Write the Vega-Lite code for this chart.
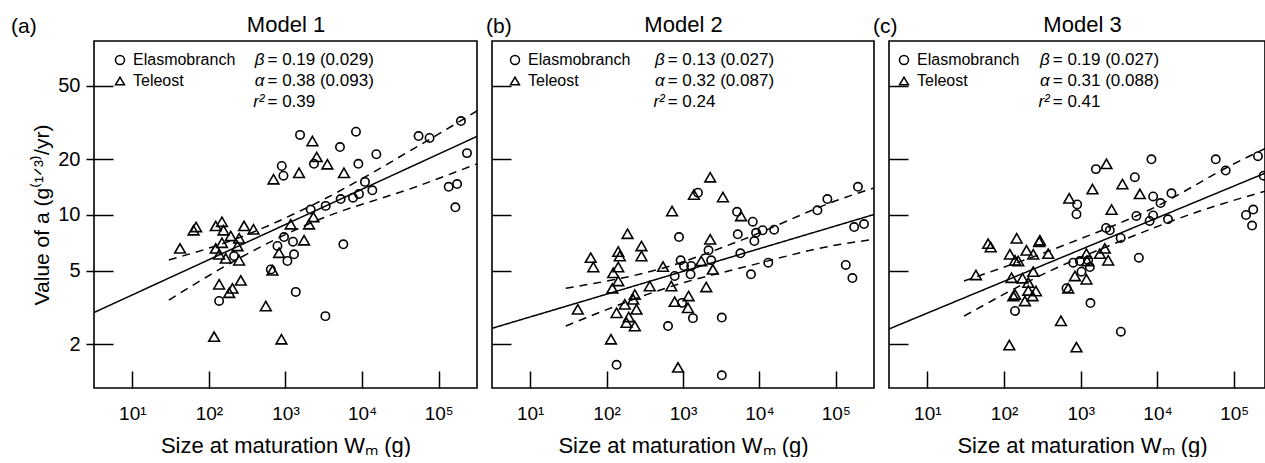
{
"$schema": "https://vega.github.io/schema/vega-lite/v6.json",
"padding": {"left": 10, "top": 12, "right": 0, "bottom": 0},
"background": "white",
"config": {
  "font": "Liberation Sans",
  "view": {"stroke": "black", "strokeWidth": 1.6},
  "axis": {"domain": false, "grid": false, "tickColor": "black", "tickWidth": 1.5, "labelColor": "black", "titleColor": "black", "titleFontWeight": "normal", "labelFont": "Liberation Sans", "titleFont": "Liberation Sans"},
  "legend": {"title": null, "orient": "none", "legendY": 11, "direction": "vertical", "labelFontSize": 16, "labelColor": "black", "symbolSize": 80, "symbolStrokeWidth": 1.5, "symbolStrokeColor": "black", "symbolFillColor": "transparent", "labelOffset": 5, "rowPadding": 5, "padding": 0},
  "title": {"fontWeight": "normal", "color": "black", "font": "Liberation Sans"}
},
"datasets": {
"pts": [
{"panel":"a","group":"Elasmobranch","Wm":1549,"a":27.1},{"panel":"a","group":"Elasmobranch","Wm":8318,"a":28.2},{"panel":"a","group":"Elasmobranch","Wm":54600,"a":26.7},{"panel":"a","group":"Elasmobranch","Wm":5144,"a":23.3},{"panel":"a","group":"Elasmobranch","Wm":15350,"a":21.3},{"panel":"a","group":"Elasmobranch","Wm":893,"a":18.4},{"panel":"a","group":"Elasmobranch","Wm":940,"a":16.3},{"panel":"a","group":"Elasmobranch","Wm":8936,"a":18.9},{"panel":"a","group":"Elasmobranch","Wm":2355,"a":18.9},{"panel":"a","group":"Elasmobranch","Wm":10900,"a":15.1},{"panel":"a","group":"Elasmobranch","Wm":13600,"a":13.6},{"panel":"a","group":"Elasmobranch","Wm":9099,"a":13.0},{"panel":"a","group":"Elasmobranch","Wm":7600,"a":12.4},{"panel":"a","group":"Elasmobranch","Wm":5254,"a":12.2},{"panel":"a","group":"Elasmobranch","Wm":3347,"a":11.2},{"panel":"a","group":"Elasmobranch","Wm":2134,"a":10.7},{"panel":"a","group":"Elasmobranch","Wm":957,"a":7.6},{"panel":"a","group":"Elasmobranch","Wm":785,"a":6.8},{"panel":"a","group":"Elasmobranch","Wm":1253,"a":7.17},{"panel":"a","group":"Elasmobranch","Wm":1292,"a":6.13},{"panel":"a","group":"Elasmobranch","Wm":1059,"a":5.64},{"panel":"a","group":"Elasmobranch","Wm":643,"a":5.08},{"panel":"a","group":"Elasmobranch","Wm":5692,"a":6.94},{"panel":"a","group":"Elasmobranch","Wm":136,"a":3.43},{"panel":"a","group":"Elasmobranch","Wm":1361,"a":3.84},{"panel":"a","group":"Elasmobranch","Wm":3316,"a":2.84},{"panel":"a","group":"Elasmobranch","Wm":213,"a":6.0},{"panel":"a","group":"Elasmobranch","Wm":76000,"a":26.1},{"panel":"a","group":"Elasmobranch","Wm":195000,"a":32.2},{"panel":"a","group":"Elasmobranch","Wm":234000,"a":21.6},{"panel":"a","group":"Elasmobranch","Wm":174000,"a":14.7},{"panel":"a","group":"Elasmobranch","Wm":135000,"a":14.2},{"panel":"a","group":"Elasmobranch","Wm":165000,"a":11.0},
{"panel":"a","group":"Teleost","Wm":2244,"a":25.1},{"panel":"a","group":"Teleost","Wm":2553,"a":20.6},{"panel":"a","group":"Teleost","Wm":3524,"a":18.8},{"panel":"a","group":"Teleost","Wm":1502,"a":16.9},{"panel":"a","group":"Teleost","Wm":697,"a":15.6},{"panel":"a","group":"Teleost","Wm":5795,"a":16.9},{"panel":"a","group":"Teleost","Wm":68,"a":8.61},{"panel":"a","group":"Teleost","Wm":63,"a":8.27},{"panel":"a","group":"Teleost","Wm":123,"a":8.73},{"panel":"a","group":"Teleost","Wm":148,"a":9.2},{"panel":"a","group":"Teleost","Wm":155,"a":8.27},{"panel":"a","group":"Teleost","Wm":288,"a":8.73},{"panel":"a","group":"Teleost","Wm":382,"a":8.37},{"panel":"a","group":"Teleost","Wm":193,"a":7.7},{"panel":"a","group":"Teleost","Wm":248,"a":7.48},{"panel":"a","group":"Teleost","Wm":42,"a":6.6},{"panel":"a","group":"Teleost","Wm":123,"a":6.6},{"panel":"a","group":"Teleost","Wm":148,"a":7.08},{"panel":"a","group":"Teleost","Wm":236,"a":6.8},{"panel":"a","group":"Teleost","Wm":136,"a":6.13},{"panel":"a","group":"Teleost","Wm":166,"a":5.83},{"panel":"a","group":"Teleost","Wm":248,"a":5.69},{"panel":"a","group":"Teleost","Wm":1169,"a":8.91},{"panel":"a","group":"Teleost","Wm":2029,"a":8.91},{"panel":"a","group":"Teleost","Wm":2312,"a":9.75},{"panel":"a","group":"Teleost","Wm":1746,"a":7.3},{"panel":"a","group":"Teleost","Wm":824,"a":6.25},{"panel":"a","group":"Teleost","Wm":676,"a":5.02},{"panel":"a","group":"Teleost","Wm":136,"a":4.22},{"panel":"a","group":"Teleost","Wm":261,"a":4.43},{"panel":"a","group":"Teleost","Wm":203,"a":4.01},{"panel":"a","group":"Teleost","Wm":184,"a":3.8},{"panel":"a","group":"Teleost","Wm":553,"a":3.22},{"panel":"a","group":"Teleost","Wm":117,"a":2.2},{"panel":"a","group":"Teleost","Wm":885,"a":2.13},
{"panel":"b","group":"Elasmobranch","Wm":1570,"a":13.2},{"panel":"b","group":"Elasmobranch","Wm":5100,"a":10.4},{"panel":"b","group":"Elasmobranch","Wm":8180,"a":9.2},{"panel":"b","group":"Elasmobranch","Wm":11000,"a":8.27},{"panel":"b","group":"Elasmobranch","Wm":15600,"a":8.33},{"panel":"b","group":"Elasmobranch","Wm":9040,"a":8.01},{"panel":"b","group":"Elasmobranch","Wm":5210,"a":7.86},{"panel":"b","group":"Elasmobranch","Wm":77600,"a":12.2},{"panel":"b","group":"Elasmobranch","Wm":57500,"a":10.6},{"panel":"b","group":"Elasmobranch","Wm":887,"a":7.6},{"panel":"b","group":"Elasmobranch","Wm":8590,"a":7.23},{"panel":"b","group":"Elasmobranch","Wm":2160,"a":6.44},{"panel":"b","group":"Elasmobranch","Wm":5640,"a":6.21},{"panel":"b","group":"Elasmobranch","Wm":931,"a":5.69},{"panel":"b","group":"Elasmobranch","Wm":1031,"a":5.3},{"panel":"b","group":"Elasmobranch","Wm":1282,"a":5.3},{"panel":"b","group":"Elasmobranch","Wm":2340,"a":5.69},{"panel":"b","group":"Elasmobranch","Wm":778,"a":4.68},{"panel":"b","group":"Elasmobranch","Wm":1256,"a":4.78},{"panel":"b","group":"Elasmobranch","Wm":7760,"a":4.78},{"panel":"b","group":"Elasmobranch","Wm":13060,"a":5.52},{"panel":"b","group":"Elasmobranch","Wm":971,"a":3.35},{"panel":"b","group":"Elasmobranch","Wm":1349,"a":2.77},{"panel":"b","group":"Elasmobranch","Wm":3220,"a":2.79},{"panel":"b","group":"Elasmobranch","Wm":637,"a":2.51},{"panel":"b","group":"Elasmobranch","Wm":135,"a":1.55},{"panel":"b","group":"Elasmobranch","Wm":3220,"a":1.36},{"panel":"b","group":"Elasmobranch","Wm":195000,"a":14.2},{"panel":"b","group":"Elasmobranch","Wm":234000,"a":8.93},{"panel":"b","group":"Elasmobranch","Wm":174000,"a":8.61},{"panel":"b","group":"Elasmobranch","Wm":135000,"a":5.37},{"panel":"b","group":"Elasmobranch","Wm":165000,"a":4.56},
{"panel":"b","group":"Teleost","Wm":2270,"a":16.0},{"panel":"b","group":"Teleost","Wm":1390,"a":12.9},{"panel":"b","group":"Teleost","Wm":3330,"a":12.5},{"panel":"b","group":"Teleost","Wm":719,"a":10.5},{"panel":"b","group":"Teleost","Wm":5750,"a":9.88},{"panel":"b","group":"Teleost","Wm":188,"a":7.92},{"panel":"b","group":"Teleost","Wm":2270,"a":7.39},{"panel":"b","group":"Teleost","Wm":62,"a":5.88},{"panel":"b","group":"Teleost","Wm":67,"a":5.23},{"panel":"b","group":"Teleost","Wm":142,"a":6.34},{"panel":"b","group":"Teleost","Wm":149,"a":6.0},{"panel":"b","group":"Teleost","Wm":142,"a":5.23},{"panel":"b","group":"Teleost","Wm":122,"a":4.87},{"panel":"b","group":"Teleost","Wm":286,"a":6.8},{"panel":"b","group":"Teleost","Wm":286,"a":6.0},{"panel":"b","group":"Teleost","Wm":142,"a":4.4},{"panel":"b","group":"Teleost","Wm":119,"a":4.01},{"panel":"b","group":"Teleost","Wm":548,"a":5.26},{"panel":"b","group":"Teleost","Wm":367,"a":4.13},{"panel":"b","group":"Teleost","Wm":703,"a":4.13},{"panel":"b","group":"Teleost","Wm":1732,"a":5.64},{"panel":"b","group":"Teleost","Wm":2460,"a":5.08},{"panel":"b","group":"Teleost","Wm":2014,"a":4.08},{"panel":"b","group":"Teleost","Wm":1183,"a":3.65},{"panel":"b","group":"Teleost","Wm":778,"a":3.4},{"panel":"b","group":"Teleost","Wm":1161,"a":3.15},{"panel":"b","group":"Teleost","Wm":234,"a":3.72},{"panel":"b","group":"Teleost","Wm":223,"a":3.5},{"panel":"b","group":"Teleost","Wm":173,"a":3.29},{"panel":"b","group":"Teleost","Wm":246,"a":3.09},{"panel":"b","group":"Teleost","Wm":135,"a":2.96},{"panel":"b","group":"Teleost","Wm":195,"a":2.81},{"panel":"b","group":"Teleost","Wm":182,"a":2.62},{"panel":"b","group":"Teleost","Wm":234,"a":2.51},{"panel":"b","group":"Teleost","Wm":42,"a":3.09},{"panel":"b","group":"Teleost","Wm":114,"a":2.13},{"panel":"b","group":"Teleost","Wm":861,"a":1.5},
{"panel":"c","group":"Elasmobranch","Wm":8340,"a":20.0},{"panel":"c","group":"Elasmobranch","Wm":1574,"a":17.7},{"panel":"c","group":"Elasmobranch","Wm":57400,"a":20.0},{"panel":"c","group":"Elasmobranch","Wm":77400,"a":17.4},{"panel":"c","group":"Elasmobranch","Wm":204000,"a":20.8},{"panel":"c","group":"Elasmobranch","Wm":242000,"a":16.3},{"panel":"c","group":"Elasmobranch","Wm":5060,"a":16.0},{"panel":"c","group":"Elasmobranch","Wm":898,"a":11.4},{"panel":"c","group":"Elasmobranch","Wm":879,"a":10.1},{"panel":"c","group":"Elasmobranch","Wm":8770,"a":12.6},{"panel":"c","group":"Elasmobranch","Wm":15200,"a":13.1},{"panel":"c","group":"Elasmobranch","Wm":10960,"a":11.6},{"panel":"c","group":"Elasmobranch","Wm":5310,"a":9.88},{"panel":"c","group":"Elasmobranch","Wm":8770,"a":9.94},{"panel":"c","group":"Elasmobranch","Wm":7890,"a":9.29},{"panel":"c","group":"Elasmobranch","Wm":13700,"a":9.48},{"panel":"c","group":"Elasmobranch","Wm":2140,"a":8.51},{"panel":"c","group":"Elasmobranch","Wm":2390,"a":8.27},{"panel":"c","group":"Elasmobranch","Wm":3310,"a":7.51},{"panel":"c","group":"Elasmobranch","Wm":142600,"a":10.0},{"panel":"c","group":"Elasmobranch","Wm":177000,"a":10.7},{"panel":"c","group":"Elasmobranch","Wm":171000,"a":8.77},{"panel":"c","group":"Elasmobranch","Wm":5710,"a":5.88},{"panel":"c","group":"Elasmobranch","Wm":796,"a":5.52},{"panel":"c","group":"Elasmobranch","Wm":973,"a":5.64},{"panel":"c","group":"Elasmobranch","Wm":1248,"a":5.69},{"panel":"c","group":"Elasmobranch","Wm":1313,"a":5.23},{"panel":"c","group":"Elasmobranch","Wm":1021,"a":4.94},{"panel":"c","group":"Elasmobranch","Wm":652,"a":4.02},{"panel":"c","group":"Elasmobranch","Wm":1337,"a":3.34},{"panel":"c","group":"Elasmobranch","Wm":139,"a":3.03},{"panel":"c","group":"Elasmobranch","Wm":3330,"a":2.34},
{"panel":"c","group":"Teleost","Wm":2160,"a":18.9},{"panel":"c","group":"Teleost","Wm":1420,"a":13.8},{"panel":"c","group":"Teleost","Wm":3490,"a":14.7},{"panel":"c","group":"Teleost","Wm":5890,"a":13.0},{"panel":"c","group":"Teleost","Wm":706,"a":12.3},{"panel":"c","group":"Teleost","Wm":2520,"a":10.7},{"panel":"c","group":"Teleost","Wm":62,"a":7.0},{"panel":"c","group":"Teleost","Wm":67,"a":6.71},{"panel":"c","group":"Teleost","Wm":146,"a":7.48},{"panel":"c","group":"Teleost","Wm":293,"a":7.3},{"panel":"c","group":"Teleost","Wm":287,"a":7.17},{"panel":"c","group":"Teleost","Wm":196,"a":6.44},{"panel":"c","group":"Teleost","Wm":240,"a":6.13},{"panel":"c","group":"Teleost","Wm":377,"a":6.18},{"panel":"c","group":"Teleost","Wm":119,"a":6.13},{"panel":"c","group":"Teleost","Wm":139,"a":5.69},{"panel":"c","group":"Teleost","Wm":153,"a":5.64},{"panel":"c","group":"Teleost","Wm":43,"a":4.74},{"panel":"c","group":"Teleost","Wm":125,"a":4.58},{"panel":"c","group":"Teleost","Wm":174,"a":4.55},{"panel":"c","group":"Teleost","Wm":240,"a":4.94},{"panel":"c","group":"Teleost","Wm":207,"a":4.31},{"panel":"c","group":"Teleost","Wm":1186,"a":6.18},{"panel":"c","group":"Teleost","Wm":1773,"a":6.18},{"panel":"c","group":"Teleost","Wm":2060,"a":6.6},{"panel":"c","group":"Teleost","Wm":2275,"a":5.69},{"panel":"c","group":"Teleost","Wm":1211,"a":5.64},{"panel":"c","group":"Teleost","Wm":838,"a":4.68},{"panel":"c","group":"Teleost","Wm":1186,"a":4.49},{"panel":"c","group":"Teleost","Wm":139,"a":3.72},{"panel":"c","group":"Teleost","Wm":132,"a":3.65},{"panel":"c","group":"Teleost","Wm":207,"a":3.91},{"panel":"c","group":"Teleost","Wm":260,"a":3.88},{"panel":"c","group":"Teleost","Wm":235,"a":3.65},{"panel":"c","group":"Teleost","Wm":187,"a":3.43},{"panel":"c","group":"Teleost","Wm":686,"a":4.02},{"panel":"c","group":"Teleost","Wm":551,"a":2.68},{"panel":"c","group":"Teleost","Wm":117,"a":1.98},{"panel":"c","group":"Teleost","Wm":879,"a":1.93}
],
"lines": [
{"panel":"a","kind":"fit","Wm":3.1623,"a":2.97},{"panel":"a","kind":"fit","Wm":316228,"a":26.6},
{"panel":"a","kind":"upper","Wm":30,"a":5.71},{"panel":"a","kind":"upper","Wm":261,"a":7.6},{"panel":"a","kind":"upper","Wm":2134,"a":11.2},{"panel":"a","kind":"upper","Wm":58000,"a":24.0},{"panel":"a","kind":"upper","Wm":316228,"a":36.5},
{"panel":"a","kind":"lower","Wm":30,"a":3.47},{"panel":"a","kind":"lower","Wm":261,"a":5.9},{"panel":"a","kind":"lower","Wm":2134,"a":9.05},{"panel":"a","kind":"lower","Wm":58000,"a":14.5},{"panel":"a","kind":"lower","Wm":316228,"a":18.9},
{"panel":"b","kind":"fit","Wm":3.1623,"a":2.44},{"panel":"b","kind":"fit","Wm":316228,"a":10.06},
{"panel":"b","kind":"upper","Wm":29.2,"a":4.02},{"panel":"b","kind":"upper","Wm":570,"a":5.19},{"panel":"b","kind":"upper","Wm":6300,"a":7.41},{"panel":"b","kind":"upper","Wm":115900,"a":12.2},{"panel":"b","kind":"upper","Wm":316228,"a":14.0},
{"panel":"b","kind":"lower","Wm":29.2,"a":2.51},{"panel":"b","kind":"lower","Wm":861,"a":4.22},{"panel":"b","kind":"lower","Wm":6300,"a":5.23},{"panel":"b","kind":"lower","Wm":115900,"a":6.95},{"panel":"b","kind":"lower","Wm":316228,"a":7.38},
{"panel":"c","kind":"fit","Wm":3.1623,"a":2.42},{"panel":"c","kind":"fit","Wm":316228,"a":17.5},
{"panel":"c","kind":"upper","Wm":30,"a":4.4},{"panel":"c","kind":"upper","Wm":652,"a":6.95},{"panel":"c","kind":"upper","Wm":8770,"a":10.9},{"panel":"c","kind":"upper","Wm":96400,"a":18.8},{"panel":"c","kind":"upper","Wm":316228,"a":23.9},
{"panel":"c","kind":"lower","Wm":30,"a":2.84},{"panel":"c","kind":"lower","Wm":396,"a":4.98},{"panel":"c","kind":"lower","Wm":2920,"a":7.08},{"panel":"c","kind":"lower","Wm":35600,"a":10.5},{"panel":"c","kind":"lower","Wm":316228,"a":13.8}
],
"stats": [
{"panel":"a","sym":"β","rest":"= 0.19 (0.029)","Wm":582,"a":68.5},{"panel":"a","sym":"α","rest":"= 0.38 (0.093)","Wm":582,"a":53.2},{"panel":"a","sym":"r²","rest":"= 0.39","Wm":582,"a":40.6},
{"panel":"b","sym":"β","rest":"= 0.13 (0.027)","Wm":631,"a":68.5},{"panel":"b","sym":"α","rest":"= 0.32 (0.087)","Wm":631,"a":53.2},{"panel":"b","sym":"r²","rest":"= 0.24","Wm":631,"a":40.6},
{"panel":"c","sym":"β","rest":"= 0.19 (0.027)","Wm":431,"a":68.5},{"panel":"c","sym":"α","rest":"= 0.31 (0.088)","Wm":431,"a":53.2},{"panel":"c","sym":"r²","rest":"= 0.41","Wm":431,"a":40.6}
]
},
"spacing": 15,
"bounds": "flush",
"resolve": {"scale": {"shape": "independent", "strokeDash": "independent"}, "legend": {"shape": "independent"}},
"hconcat": [
{
 "width": 383, "height": 347,
 "title": {"text": "(a)", "anchor": "start", "frame": "group", "dx": -83, "offset": -41, "baseline": "alphabetic", "fontSize": 21},
 "layer": [
  {"data": {"name": "pts"}, "transform": [{"filter": "datum.panel === 'a' && datum.group === 'Elasmobranch'"}],
   "mark": {"type": "point", "filled": false, "stroke": "black", "strokeWidth": 1.6, "opacity": 1, "size": 70},
   "encoding": {
    "x": {"field": "Wm", "type": "quantitative", "scale": {"type": "log", "domain": [3.1623, 316228], "nice": false},
          "axis": {"orient": "bottom", "values": [10, 100, 1000, 10000, 100000], "offset": -17, "tickSize": 17, "labelPadding": 16, "labelFontSize": 19, "labelExpr": "datum.value == 10 ? '10¹' : datum.value == 100 ? '10²' : datum.value == 1000 ? '10³' : datum.value == 10000 ? '10⁴' : '10⁵'", "title": "Size at maturation Wₘ (g)", "titleFontSize": 22, "titlePadding": 12}},
    "y": {"field": "a", "type": "quantitative", "scale": {"type": "log", "domain": [1.161, 87.2], "nice": false},
          "axis": {"orient": "left", "values": [2, 5, 10, 20, 50], "offset": -19, "tickSize": 27, "labelPadding": 6, "labelFontSize": 20, "title": "Value of a (g⁽¹ᐟ³⁾/yr)", "titleFontSize": 21, "titlePadding": 5}},
    "shape": {"field": "group", "type": "nominal", "scale": {"domain": ["Elasmobranch", "Teleost"], "range": ["circle", "triangle-up"]}, "legend": {"legendX": 18}}
   }},
  {"data": {"name": "pts"}, "transform": [{"filter": "datum.panel === 'a' && datum.group === 'Teleost'"}],
   "mark": {"type": "point", "filled": false, "stroke": "black", "strokeWidth": 1.6, "opacity": 1, "size": 115},
   "encoding": {
    "x": {"field": "Wm", "type": "quantitative", "scale": {"type": "log", "domain": [3.1623, 316228], "nice": false}, "axis": null},
    "y": {"field": "a", "type": "quantitative", "scale": {"type": "log", "domain": [1.161, 87.2], "nice": false}},
    "shape": {"field": "group", "type": "nominal", "scale": {"domain": ["Elasmobranch", "Teleost"], "range": ["circle", "triangle-up"]}, "legend": {"legendX": 18}}
   }},
  {"data": {"name": "lines"}, "transform": [{"filter": "datum.panel === 'a'"}],
   "mark": {"type": "line", "color": "black", "strokeWidth": 1.5, "clip": true, "interpolate": "monotone"},
   "encoding": {
    "x": {"field": "Wm", "type": "quantitative", "scale": {"type": "log", "domain": [3.1623, 316228], "nice": false},
          "axis": {"orient": "top", "title": "Model 1", "labels": false, "ticks": false, "domain": false, "titlePadding": 10, "titleFontSize": 22, "titleBaseline": "alphabetic"}},
    "y": {"field": "a", "type": "quantitative", "scale": {"type": "log", "domain": [1.161, 87.2], "nice": false}},
    "strokeDash": {"field": "kind", "type": "nominal", "scale": {"domain": ["fit", "upper", "lower"], "range": [[1, 0], [8, 6], [8, 6]]}, "legend": null}
   }},
  {"data": {"name": "stats"}, "transform": [{"filter": "datum.panel === 'a'"}],
   "mark": {"type": "text", "align": "right", "baseline": "middle", "dx": -3, "fontSize": 17, "fontStyle": "italic", "color": "black"},
   "encoding": {
    "x": {"field": "Wm", "type": "quantitative", "scale": {"type": "log", "domain": [3.1623, 316228], "nice": false}, "axis": null},
    "y": {"field": "a", "type": "quantitative", "scale": {"type": "log", "domain": [1.161, 87.2], "nice": false}},
    "text": {"field": "sym"}
   }},
  {"data": {"name": "stats"}, "transform": [{"filter": "datum.panel === 'a'"}],
   "mark": {"type": "text", "align": "left", "baseline": "middle", "fontSize": 17, "color": "black"},
   "encoding": {
    "x": {"field": "Wm", "type": "quantitative", "scale": {"type": "log", "domain": [3.1623, 316228], "nice": false}, "axis": null},
    "y": {"field": "a", "type": "quantitative", "scale": {"type": "log", "domain": [1.161, 87.2], "nice": false}},
    "text": {"field": "rest"}
   }}
 ],
 "resolve": {"axis": {"x": "independent"}}
},
{
 "width": 382, "height": 347,
 "title": {"text": "(b)", "anchor": "start", "frame": "group", "dx": -6, "offset": -41, "baseline": "alphabetic", "fontSize": 21},
 "layer": [
  {"data": {"name": "pts"}, "transform": [{"filter": "datum.panel === 'b' && datum.group === 'Elasmobranch'"}],
   "mark": {"type": "point", "filled": false, "stroke": "black", "strokeWidth": 1.6, "opacity": 1, "size": 70},
   "encoding": {
    "x": {"field": "Wm", "type": "quantitative", "scale": {"type": "log", "domain": [3.1623, 316228], "nice": false},
          "axis": {"orient": "bottom", "values": [10, 100, 1000, 10000, 100000], "offset": -17, "tickSize": 17, "labelPadding": 16, "labelFontSize": 19, "labelExpr": "datum.value == 10 ? '10¹' : datum.value == 100 ? '10²' : datum.value == 1000 ? '10³' : datum.value == 10000 ? '10⁴' : '10⁵'", "title": "Size at maturation Wₘ (g)", "titleFontSize": 22, "titlePadding": 12}},
    "y": {"field": "a", "type": "quantitative", "scale": {"type": "log", "domain": [1.161, 87.2], "nice": false},
          "axis": {"orient": "left", "values": [2, 5, 10, 20, 50], "offset": -19, "tickSize": 19, "labels": false, "title": null}},
    "shape": {"field": "group", "type": "nominal", "scale": {"domain": ["Elasmobranch", "Teleost"], "range": ["circle", "triangle-up"]}, "legend": {"legendX": 15}}
   }},
  {"data": {"name": "pts"}, "transform": [{"filter": "datum.panel === 'b' && datum.group === 'Teleost'"}],
   "mark": {"type": "point", "filled": false, "stroke": "black", "strokeWidth": 1.6, "opacity": 1, "size": 115},
   "encoding": {
    "x": {"field": "Wm", "type": "quantitative", "scale": {"type": "log", "domain": [3.1623, 316228], "nice": false}, "axis": null},
    "y": {"field": "a", "type": "quantitative", "scale": {"type": "log", "domain": [1.161, 87.2], "nice": false}},
    "shape": {"field": "group", "type": "nominal", "scale": {"domain": ["Elasmobranch", "Teleost"], "range": ["circle", "triangle-up"]}, "legend": {"legendX": 15}}
   }},
  {"data": {"name": "lines"}, "transform": [{"filter": "datum.panel === 'b'"}],
   "mark": {"type": "line", "color": "black", "strokeWidth": 1.5, "clip": true, "interpolate": "monotone"},
   "encoding": {
    "x": {"field": "Wm", "type": "quantitative", "scale": {"type": "log", "domain": [3.1623, 316228], "nice": false},
          "axis": {"orient": "top", "title": "Model 2", "labels": false, "ticks": false, "domain": false, "titlePadding": 10, "titleFontSize": 22, "titleBaseline": "alphabetic"}},
    "y": {"field": "a", "type": "quantitative", "scale": {"type": "log", "domain": [1.161, 87.2], "nice": false}},
    "strokeDash": {"field": "kind", "type": "nominal", "scale": {"domain": ["fit", "upper", "lower"], "range": [[1, 0], [8, 6], [8, 6]]}, "legend": null}
   }},
  {"data": {"name": "stats"}, "transform": [{"filter": "datum.panel === 'b'"}],
   "mark": {"type": "text", "align": "right", "baseline": "middle", "dx": -3, "fontSize": 17, "fontStyle": "italic", "color": "black"},
   "encoding": {
    "x": {"field": "Wm", "type": "quantitative", "scale": {"type": "log", "domain": [3.1623, 316228], "nice": false}, "axis": null},
    "y": {"field": "a", "type": "quantitative", "scale": {"type": "log", "domain": [1.161, 87.2], "nice": false}},
    "text": {"field": "sym"}
   }},
  {"data": {"name": "stats"}, "transform": [{"filter": "datum.panel === 'b'"}],
   "mark": {"type": "text", "align": "left", "baseline": "middle", "fontSize": 17, "color": "black"},
   "encoding": {
    "x": {"field": "Wm", "type": "quantitative", "scale": {"type": "log", "domain": [3.1623, 316228], "nice": false}, "axis": null},
    "y": {"field": "a", "type": "quantitative", "scale": {"type": "log", "domain": [1.161, 87.2], "nice": false}},
    "text": {"field": "rest"}
   }}
 ],
 "resolve": {"axis": {"x": "independent"}}
},
{
 "width": 376, "height": 347,
 "title": {"text": "(c)", "anchor": "start", "frame": "group", "dx": -16, "offset": -41, "baseline": "alphabetic", "fontSize": 21},
 "layer": [
  {"data": {"name": "pts"}, "transform": [{"filter": "datum.panel === 'c' && datum.group === 'Elasmobranch'"}],
   "mark": {"type": "point", "filled": false, "stroke": "black", "strokeWidth": 1.6, "opacity": 1, "size": 70},
   "encoding": {
    "x": {"field": "Wm", "type": "quantitative", "scale": {"type": "log", "domain": [3.1623, 252000], "nice": false},
          "axis": {"orient": "bottom", "values": [10, 100, 1000, 10000, 100000], "offset": -17, "tickSize": 17, "labelPadding": 16, "labelFontSize": 19, "labelExpr": "datum.value == 10 ? '10¹' : datum.value == 100 ? '10²' : datum.value == 1000 ? '10³' : datum.value == 10000 ? '10⁴' : '10⁵'", "title": "Size at maturation Wₘ (g)", "titleFontSize": 22, "titlePadding": 12, "titleAnchor": "start", "titleAlign": "center", "titleX": 193}},
    "y": {"field": "a", "type": "quantitative", "scale": {"type": "log", "domain": [1.161, 87.2], "nice": false},
          "axis": {"orient": "left", "values": [2, 5, 10, 20, 50], "offset": -19, "tickSize": 19, "labels": false, "title": null}},
    "shape": {"field": "group", "type": "nominal", "scale": {"domain": ["Elasmobranch", "Teleost"], "range": ["circle", "triangle-up"]}, "legend": {"legendX": 7}}
   }},
  {"data": {"name": "pts"}, "transform": [{"filter": "datum.panel === 'c' && datum.group === 'Teleost'"}],
   "mark": {"type": "point", "filled": false, "stroke": "black", "strokeWidth": 1.6, "opacity": 1, "size": 115},
   "encoding": {
    "x": {"field": "Wm", "type": "quantitative", "scale": {"type": "log", "domain": [3.1623, 252000], "nice": false}, "axis": null},
    "y": {"field": "a", "type": "quantitative", "scale": {"type": "log", "domain": [1.161, 87.2], "nice": false}},
    "shape": {"field": "group", "type": "nominal", "scale": {"domain": ["Elasmobranch", "Teleost"], "range": ["circle", "triangle-up"]}, "legend": {"legendX": 7}}
   }},
  {"data": {"name": "lines"}, "transform": [{"filter": "datum.panel === 'c'"}],
   "mark": {"type": "line", "color": "black", "strokeWidth": 1.5, "clip": true, "interpolate": "monotone"},
   "encoding": {
    "x": {"field": "Wm", "type": "quantitative", "scale": {"type": "log", "domain": [3.1623, 252000], "nice": false},
          "axis": {"orient": "top", "title": "Model 3", "labels": false, "ticks": false, "domain": false, "titlePadding": 10, "titleFontSize": 22, "titleBaseline": "alphabetic", "titleAnchor": "start", "titleAlign": "center", "titleX": 193}},
    "y": {"field": "a", "type": "quantitative", "scale": {"type": "log", "domain": [1.161, 87.2], "nice": false}},
    "strokeDash": {"field": "kind", "type": "nominal", "scale": {"domain": ["fit", "upper", "lower"], "range": [[1, 0], [8, 6], [8, 6]]}, "legend": null}
   }},
  {"data": {"name": "stats"}, "transform": [{"filter": "datum.panel === 'c'"}],
   "mark": {"type": "text", "align": "right", "baseline": "middle", "dx": -3, "fontSize": 17, "fontStyle": "italic", "color": "black"},
   "encoding": {
    "x": {"field": "Wm", "type": "quantitative", "scale": {"type": "log", "domain": [3.1623, 252000], "nice": false}, "axis": null},
    "y": {"field": "a", "type": "quantitative", "scale": {"type": "log", "domain": [1.161, 87.2], "nice": false}},
    "text": {"field": "sym"}
   }},
  {"data": {"name": "stats"}, "transform": [{"filter": "datum.panel === 'c'"}],
   "mark": {"type": "text", "align": "left", "baseline": "middle", "fontSize": 17, "color": "black"},
   "encoding": {
    "x": {"field": "Wm", "type": "quantitative", "scale": {"type": "log", "domain": [3.1623, 252000], "nice": false}, "axis": null},
    "y": {"field": "a", "type": "quantitative", "scale": {"type": "log", "domain": [1.161, 87.2], "nice": false}},
    "text": {"field": "rest"}
   }}
 ],
 "resolve": {"axis": {"x": "independent"}}
}
]
}
